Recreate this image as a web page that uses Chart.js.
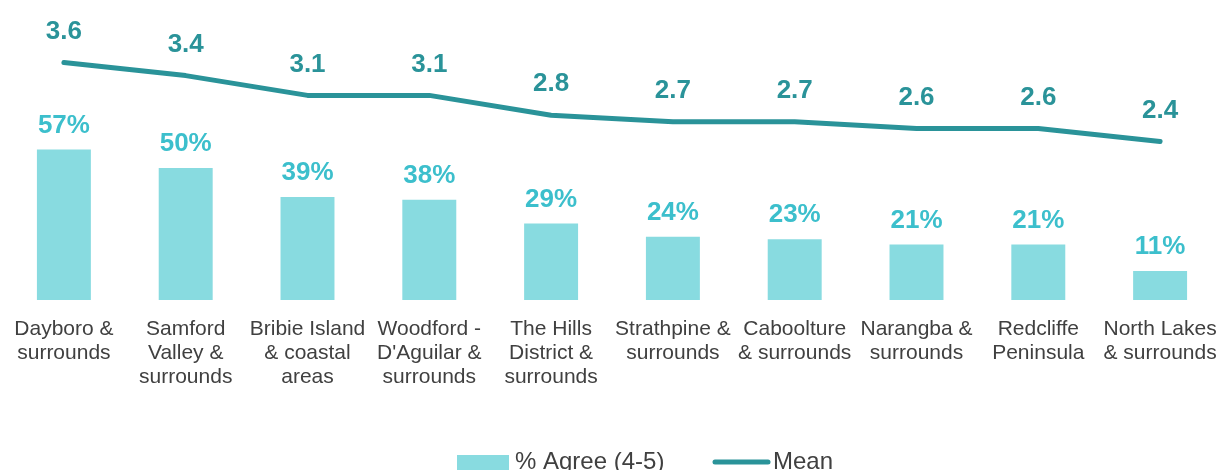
<!DOCTYPE html>
<html>
<head>
<meta charset="utf-8">
<script src="https://cdn.jsdelivr.net/npm/chart.js@4"></script>
<style>
  html, body { margin: 0; padding: 0; background: #fff; overflow: hidden; }
  #wrap { width: 1221px; height: 470px; position: relative; }
</style>
</head>
<body>
<div id="wrap"><canvas id="chart" width="1221" height="470"></canvas></div>
<script>
'use strict';
// data
var regions = [
  ['Dayboro &', 'surrounds'],
  ['Samford', 'Valley &', 'surrounds'],
  ['Bribie Island', '& coastal', 'areas'],
  ['Woodford -', "D'Aguilar &", 'surrounds'],
  ['The Hills', 'District &', 'surrounds'],
  ['Strathpine &', 'surrounds'],
  ['Caboolture', '& surrounds'],
  ['Narangba &', 'surrounds'],
  ['Redcliffe', 'Peninsula'],
  ['North Lakes', '& surrounds']
];
var agreePct = [57, 50, 39, 38, 29, 24, 23, 21, 21, 11];
var meanScore = [3.6, 3.4, 3.1, 3.1, 2.8, 2.7, 2.7, 2.6, 2.6, 2.4];
var seriesNames = ['% Agree (4-5)', 'Mean'];

var barColor = '#88dbe0';
var barLabelColor = '#3cbfcc';
var lineColor = '#2a9399';
var textColor = '#404040';
var fontFamily = '"Liberation Sans", Arial, sans-serif';

// value labels over bars + line points
var valueLabels = {
  id: 'valueLabels',
  afterDatasetsDraw(chart) {
    let ctx = chart.ctx;
    ctx.save();
    ctx.font = 'bold 26px ' + fontFamily;
    ctx.textAlign = 'center';
    ctx.textBaseline = 'middle';
    chart.data.datasets.forEach((ds, di) => {
      let meta = chart.getDatasetMeta(di);
      meta.data.forEach((el, i) => {
        if (ds.type === 'line') {
          ctx.fillStyle = lineColor;
          ctx.fillText(ds.data[i].toFixed(1), el.x, el.y - 31);
        } else {
          ctx.fillStyle = barLabelColor;
          ctx.fillText(ds.data[i] + '%', el.x, el.y - 24);
        }
      });
    });
    ctx.restore();
  }
};

// legend drawn by hand so it sits off-centre like the original
var bottomLegend = {
  id: 'bottomLegend',
  afterDraw(chart) {
    let ctx = chart.ctx;
    let cy = 462;
    ctx.save();
    ctx.font = '24px ' + fontFamily;
    ctx.textBaseline = 'middle';
    ctx.fillStyle = barColor;
    ctx.fillRect(457, cy - 7, 52, 15);
    ctx.fillStyle = textColor;
    ctx.fillText(seriesNames[0], 515, cy);
    ctx.strokeStyle = lineColor;
    ctx.lineWidth = 5;
    ctx.lineCap = 'round';
    ctx.beginPath();
    ctx.moveTo(715, cy);
    ctx.lineTo(768, cy);
    ctx.stroke();
    ctx.fillStyle = textColor;
    ctx.fillText(seriesNames[1], 773, cy);
    ctx.restore();
  }
};

new Chart(document.getElementById('chart').getContext('2d'), {
  type: 'bar',
  data: {
    labels: regions,
    datasets: [{
      type: 'line',
      label: seriesNames[1],
      data: meanScore,
      yAxisID: 'y2',
      borderColor: lineColor,
      backgroundColor: lineColor,
      borderWidth: 5,
      borderCapStyle: 'round',
      borderJoinStyle: 'round',
      pointRadius: 0,
      tension: 0,
      order: 0
    }, {
      type: 'bar',
      label: seriesNames[0],
      data: agreePct,
      yAxisID: 'y',
      backgroundColor: barColor,
      barPercentage: 0.443,
      categoryPercentage: 1,
      order: 1
    }]
  },
  options: {
    responsive: false,
    animation: false,
    layout: { padding: { top: 36, left: 3, right: 0, bottom: 0 } },
    plugins: {
      legend: { display: false },
      tooltip: { enabled: false }
    },
    scales: {
      x: {
        grid: { display: false, drawTicks: false },
        border: { display: false },
        ticks: {
          color: textColor,
          font: { family: fontFamily, size: 21, lineHeight: 24 / 21 },
          padding: 17,
          maxRotation: 0,
          autoSkip: false
        },
        afterFit: (scale) => {
          scale.height = 170;
          scale.paddingLeft = 0;
          scale.paddingRight = 0;
        }
      },
      y: {
        display: false,
        min: 0,
        max: 100
      },
      y2: {
        display: false,
        position: 'right',
        min: 0,
        max: 4
      }
    }
  },
  plugins: [valueLabels, bottomLegend]
});
</script>
</body>
</html>
